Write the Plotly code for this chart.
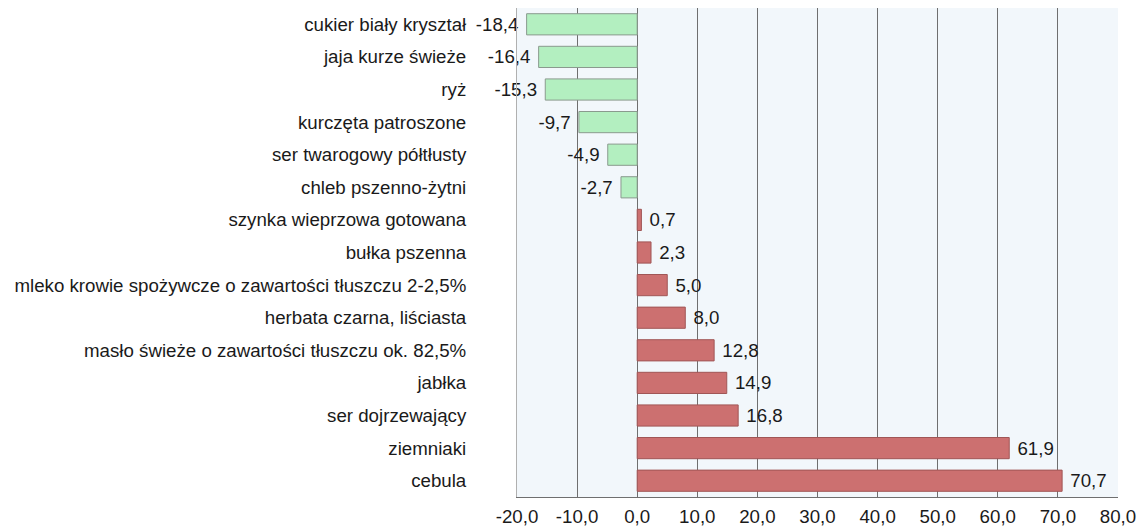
import plotly.graph_objects as go

categories = [
    "cukier biały kryształ",
    "jaja kurze świeże",
    "ryż",
    "kurczęta patroszone",
    "ser twarogowy półtłusty",
    "chleb pszenno-żytni",
    "szynka wieprzowa gotowana",
    "bułka pszenna",
    "mleko krowie spożywcze o zawartości tłuszczu 2-2,5%",
    "herbata czarna, liściasta",
    "masło świeże o zawartości tłuszczu ok. 82,5%",
    "jabłka",
    "ser dojrzewający",
    "ziemniaki",
    "cebula",
]
values = [-18.4, -16.4, -15.3, -9.7, -4.9, -2.7, 0.7, 2.3, 5.0, 8.0, 12.8, 14.9, 16.8, 61.9, 70.7]
tick_vals = [-20, -10, 0, 10, 20, 30, 40, 50, 60, 70, 80]

def fmt(v):
    return f"{v:.1f}".replace(".", ",")

def label(v):
    return fmt(v) + "\u00a0" if v < 0 else "\u00a0" + fmt(v)

FONT = "Liberation Sans, Arial, sans-serif"
colors = ["#b3efc0" if v < 0 else "#cc7070" for v in values]
line_colors = ["#8a9a8e" if v < 0 else "#a05656" for v in values]

fig = go.Figure(go.Bar(
    y=categories,
    x=values,
    orientation="h",
    marker=dict(color=colors, line=dict(color=line_colors, width=1)),
    text=[label(v) for v in values],
    textposition="outside",
    textfont=dict(family=FONT, size=18.7, color="#1a1a1a"),
    cliponaxis=False,
))

fig.update_layout(
    width=1137, height=529,
    margin=dict(l=517, r=19, t=8, b=32, autoexpand=False),
    paper_bgcolor="white",
    plot_bgcolor="#f2f7fb",
    bargap=0.35,
    showlegend=False,
    uniformtext=dict(minsize=18, mode="show"),
    font=dict(family=FONT, size=18.7, color="#1a1a1a"),
    xaxis=dict(
        range=[-20, 80],
        tickvals=tick_vals,
        ticktext=[fmt(t) for t in tick_vals],
        showgrid=True, gridcolor="#6f6f6f", gridwidth=1,
        zeroline=True, zerolinecolor="#6f6f6f", zerolinewidth=1,
        showline=True, linecolor="#6f6f6f", linewidth=1,
        ticks="", ticklabelstandoff=3, automargin=False,
    ),
    yaxis=dict(
        autorange="reversed",
        showgrid=False,
        showline=True, linecolor="#b0b0b0", linewidth=1,
        ticks="", ticklabelstandoff=46, automargin=False,
    ),
)

fig.write_html(
    "out.html",
    config={"displayModeBar": False},
    post_script="document.body.style.margin='0';document.body.style.overflow='hidden';",
)
